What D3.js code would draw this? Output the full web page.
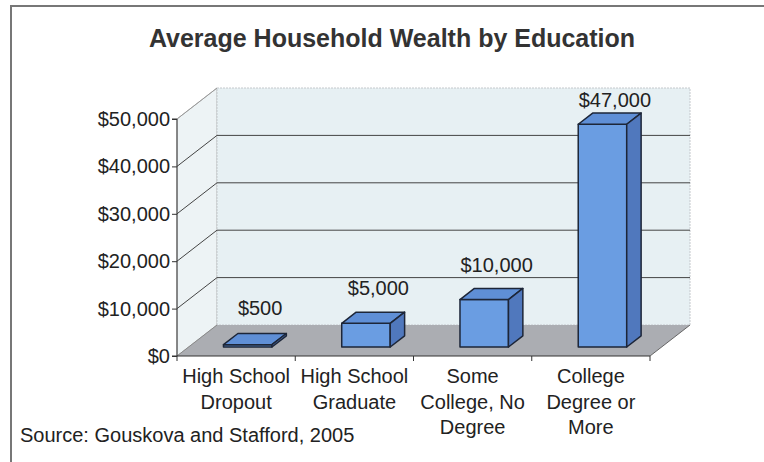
<!DOCTYPE html>
<html>
<head>
<meta charset="utf-8">
<script src="https://cdn.jsdelivr.net/npm/d3@7"></script>
<style>
  body { margin: 0; background: #fff; }
  text { font-family: "Liberation Sans", Arial, sans-serif; }
</style>
</head>
<body>
<script>
// data
var categories = [["High School", "Dropout"], ["High School", "Graduate"], ["Some", "College, No", "Degree"], ["College", "Degree or", "More"]];
var values = [500, 5000, 10000, 47000];
var yTicks = [0, 10000, 20000, 30000, 40000, 50000];
var title = "Average Household Wealth by Education";
var source = "Source: Gouskova and Stafford, 2005";

var width = 764, height = 462;
var depthX = 40, depthY = 31;      // offset of the back wall from the front plane
var barZ0 = 0.29, barZ1 = 0.65;    // depth of bar front / back

var svg = d3.select("body").append("svg")
  .attr("width", width)
  .attr("height", height);

// outer frame (only left + top visible in the scan)
svg.append("path")
  .attr("d", "M11," + height + "V6H" + width)
  .attr("fill", "none")
  .attr("stroke", "#777")
  .attr("stroke-width", 2);

svg.append("text")
  .attr("x", 392).attr("y", 47)
  .attr("text-anchor", "middle")
  .attr("font-size", 25)
  .attr("font-weight", "bold")
  .attr("fill", "#333")
  .text(title);

var x = d3.scaleBand().domain(d3.range(categories.length)).range([177, 650]).padding(0);
var y = d3.scaleLinear().domain([0, 50000]).range([356, 119]);
var labelY = d3.scaleLinear().domain([0, 50000]).range([317, 93.5]);

// project a point (px on front plane, value, depth 0..1)
function P(px, v, z) {
  return [px + z * depthX, y(v) - z * depthY];
}
function poly(pts) { return "M" + pts.map(function(p) { return p.join(","); }).join("L") + "Z"; }

var x0 = x.range()[0], x1 = x.range()[1], yMax = d3.max(yTicks);

// side wall
svg.append("path")
  .attr("d", poly([P(x0, 0, 0), P(x0, yMax, 0), P(x0, yMax, 1), P(x0, 0, 1)]))
  .attr("fill", "#edf3f5").attr("stroke", "#bbb");
// back wall
svg.append("path")
  .attr("d", poly([P(x0, 0, 1), P(x0, yMax, 1), P(x1, yMax, 1), P(x1, 0, 1)]))
  .attr("fill", "#e7f0f3").attr("stroke", "#c4c8cc").attr("stroke-dasharray", "2,1");
// floor
svg.append("path")
  .attr("d", poly([P(x0, 0, 0), P(x1, 0, 0), P(x1, 0, 1), P(x0, 0, 1)]))
  .attr("fill", "#abadb2").attr("stroke", "none");
svg.append("line")
  .attr("x1", P(x1, 0, 0)[0]).attr("y1", P(x1, 0, 0)[1])
  .attr("x2", P(x1, 0, 1)[0]).attr("y2", P(x1, 0, 1)[1])
  .attr("stroke", "#666");

// gridlines: back wall + side wall
var grid = yTicks.filter(function(d) { return d > 0 && d < yMax; });
svg.selectAll(".gback").data(grid).enter().append("line")
  .attr("x1", function(d) { return P(x0, d, 1)[0]; })
  .attr("y1", function(d) { return P(x0, d, 1)[1]; })
  .attr("x2", function(d) { return P(x1, d, 1)[0]; })
  .attr("y2", function(d) { return P(x1, d, 1)[1]; })
  .attr("stroke", "#444").attr("stroke-width", 1);
svg.selectAll(".gside").data(grid.concat([yMax])).enter().append("line")
  .attr("x1", function(d) { return P(x0, d, 0)[0]; })
  .attr("y1", function(d) { return P(x0, d, 0)[1]; })
  .attr("x2", function(d) { return P(x0, d, 1)[0]; })
  .attr("y2", function(d) { return P(x0, d, 1)[1]; })
  .attr("stroke", function(d) { return d == yMax ? "#999" : "#444"; });
svg.append("line")
  .attr("x1", P(x0, 0, 0)[0]).attr("y1", P(x0, 0, 0)[1])
  .attr("x2", P(x0, 0, 1)[0]).attr("y2", P(x0, 0, 1)[1])
  .attr("stroke", "#888");

// bars
var barW = x.bandwidth() * 0.41;
var bars = svg.selectAll(".bar").data(values).enter().append("g");
bars.each(function(v, i) {
  var g = d3.select(this);
  var l = x(i) + (x.bandwidth() - barW) / 2, r = l + barW;
  // front
  g.append("path")
    .attr("d", poly([P(l, 0, barZ0), P(l, v, barZ0), P(r, v, barZ0), P(r, 0, barZ0)]))
    .attr("fill", "#6a9de2");
  // top
  g.append("path")
    .attr("d", poly([P(l, v, barZ0), P(l, v, barZ1), P(r, v, barZ1), P(r, v, barZ0)]))
    .attr("fill", "#5f8fd6");
  // side
  g.append("path")
    .attr("d", poly([P(r, 0, barZ0), P(r, v, barZ0), P(r, v, barZ1), P(r, 0, barZ1)]))
    .attr("fill", "#5078bd");
  g.selectAll("path").attr("stroke", "#1d2638").attr("stroke-width", 1.5).attr("stroke-linejoin", "round");
});

// value labels
svg.selectAll(".vlab").data(values).enter().append("text")
  .attr("x", function(d, i) { return x(i) + x.bandwidth() / 2 + 24; })
  .attr("y", function(d) { return labelY(d); })
  .attr("text-anchor", "middle")
  .attr("font-size", 20)
  .attr("fill", "#222")
  .text(d3.format("$,"));

// y axis
var yAxis = svg.append("g")
  .attr("transform", "translate(" + x0 + ",0)")
  .call(d3.axisLeft(y).tickValues(yTicks).tickFormat(d3.format("$,")).tickSize(5).tickPadding(2));
yAxis.select(".domain").attr("stroke", "#333").attr("d", "M-5," + y(yMax) + "H0V" + y(0) + "H-5");
yAxis.selectAll(".tick line").attr("stroke", "#333");
yAxis.selectAll("text").attr("font-size", 20).attr("fill", "#222")
  .attr("font-family", "'Liberation Sans', Arial, sans-serif");

// x axis line + ticks at band edges
svg.append("line")
  .attr("x1", x0).attr("x2", x1).attr("y1", y(0)).attr("y2", y(0))
  .attr("stroke", "#333");
var edges = d3.range(categories.length + 1).map(function(i) { return x0 + i * x.step(); });
svg.selectAll(".xtick").data(edges).enter().append("line")
  .attr("x1", function(d) { return d; }).attr("x2", function(d) { return d; })
  .attr("y1", y(0)).attr("y2", y(0) + 5)
  .attr("stroke", "#333");

// category labels
var cl = svg.selectAll(".clab").data(categories).enter().append("text")
  .attr("text-anchor", "middle")
  .attr("font-size", 20)
  .attr("fill", "#222");
cl.selectAll("tspan").data(function(d, i) { return d.map(function(s) { return [s, i]; }); })
  .enter().append("tspan")
  .attr("x", function(d) { return x(d[1]) + x.bandwidth() / 2; })
  .attr("y", function(d, j) { return 383 + j * 25.5; })
  .text(function(d) { return d[0]; });

svg.append("text")
  .attr("x", 20).attr("y", 442)
  .attr("font-size", 20)
  .attr("fill", "#222")
  .text(source);
</script>
</body>
</html>
